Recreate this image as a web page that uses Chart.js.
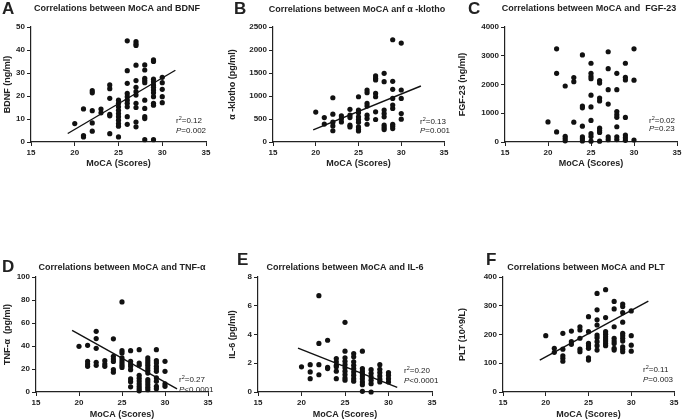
<!DOCTYPE html>
<html>
<head>
<meta charset="utf-8">
<script src="https://cdn.jsdelivr.net/npm/chart.js@4.4.1/dist/chart.umd.min.js"></script>
<style>
  html, body { margin: 0; padding: 0; background: #fff; }
  #wrap { position: relative; width: 685px; height: 420px; overflow: hidden; }
  #wrap canvas { position: absolute; }
</style>
</head>
<body>
<div id="wrap">
  <canvas id="cA" width="228" height="169" style="left:0px;top:0px"></canvas>
  <canvas id="cB" width="230" height="169" style="left:225px;top:0px"></canvas>
  <canvas id="cC" width="230" height="169" style="left:455px;top:0px"></canvas>
  <canvas id="cD" width="228" height="180" style="left:0px;top:240px"></canvas>
  <canvas id="cE" width="230" height="180" style="left:225px;top:240px"></canvas>
  <canvas id="cF" width="230" height="180" style="left:455px;top:240px"></canvas>
</div>
<script>
// MoCA scores, every point sits on one of these columns
const mocaScores = [20, 21, 22, 23, 24, 25, 26, 27, 28, 29, 30];
const xTicks = [15, 20, 25, 30, 35];

// values per MoCA column (same order as mocaScores)
const bdnf = [
  [8.0],
  [14.4, 2.8, 2.2],
  [22.3, 21.4, 13.6, 8.3, 4.7],
  [14.3, 12.7],
  [24.8, 23.2, 19, 12, 11.4, 3.6],
  [18.2, 16.8, 15.3, 13.8, 12.4, 11, 9.5, 8, 6.9, 2.2],
  [44, 31, 25.5, 21.1, 19.7, 18.2, 16.8, 15.3, 11, 7.7],
  [43.7, 42.7, 42, 33.4, 26.7, 23.8, 21.9, 20.4, 16.8, 15, 8.7, 6.6],
  [33.5, 31.3, 27.7, 26.7, 25.8, 18.2, 14.6, 11, 10.2, 1],
  [35.7, 35, 27.3, 26.2, 24.8, 23.8, 22.6, 21.4, 19.7, 16.8, 16, 1],
  [28.1, 25.8, 22.9, 19.7, 17.1]
];
const klotho = [
  [650],
  [532, 390],
  [962, 605, 430, 350, 245],
  [569, 510, 437],
  [710, 583, 532, 365, 328],
  [984, 693, 634, 547, 489, 430, 328, 270, 240],
  [1130, 1072, 838, 780, 583, 510, 386],
  [1436, 1385, 1349, 1057, 984, 656, 489],
  [1494, 1312, 693, 620, 547, 365, 313, 270],
  [2223, 1320, 1145, 948, 802, 729, 386, 343, 292],
  [2150, 1130, 948, 620, 496]
];
const fgf23 = [
  [700],
  [3240, 2390, 350],
  [1947, 200, 120, 40],
  [2240, 2100, 690],
  [3030, 1250, 1190, 550, 175, 110, 35],
  [2740, 2390, 2280, 2200, 1630, 1220, 750, 290, 190, 30],
  [2140, 2050, 1530, 1430, 480, 400, 330, 30],
  [3140, 2550, 1820, 1320, 175, 80],
  [2390, 1820, 1060, 950, 860, 530, 180, 85],
  [2740, 2250, 2160, 855, 240, 150, 60],
  [3240, 2150, 70]
];
const tnfa = [
  [39.7],
  [40.6, 26.7, 24.3, 22.3],
  [52.8, 46.5, 38, 25.8, 23.2],
  [27.2, 24.3, 22.3],
  [46.2, 31, 28.7, 26.6, 19.5, 17.2],
  [78.3, 35.9, 34, 29.6, 27.2, 25.2, 23.2, 21.4],
  [35.9, 26.7, 24.3, 22.3, 19.4, 11.4, 9, 4.5],
  [36.8, 25.2, 23.2, 14.5, 12, 9.5, 7, 4.8, 2.8, 1],
  [29.6, 27.2, 25.2, 23.2, 20.9, 18.6, 16.5, 10.7, 8.7, 6.4, 4.1, 2],
  [36.8, 27.2, 25.2, 22.3, 20.3, 18, 12.2, 9.3, 4.9, 2.9],
  [26.7, 18, 7, 4.9]
];
const il6 = [
  [1.75],
  [1.9, 1.4, 0.93],
  [6.7, 3.38, 1.9, 1.2],
  [3.6, 1.72, 1.63],
  [2.33, 2.1, 1.86, 1.75, 1.45, 0.93],
  [4.85, 2.84, 2.38, 2.14, 1.91, 1.68, 1.45, 1.21, 0.98, 0.82],
  [2.68, 2.45, 2.1, 1.86, 1.63, 1.4, 1.17, 0.93, 0.75],
  [2.84, 1.63, 1.45, 1.28, 1.12, 0.93, 0.7, 0.51, 0.05],
  [1.55, 1.3, 1.05, 0.82, 0.58, 0],
  [1.9, 1.58, 1.35, 1.12, 0.89, 0.7],
  [1.35, 1.17, 0.93, 0.7]
];
const plt = [
  [196],
  [152, 138],
  [204, 149, 126, 117, 107],
  [212, 175, 166],
  [227, 216, 187, 149, 140],
  [262, 210, 169, 161, 152, 119, 111],
  [343, 286, 251, 233, 198, 189, 175, 161, 146],
  [356, 259, 210, 201, 192, 184, 177, 169, 161],
  [315, 289, 227, 187, 177, 169, 152, 146],
  [306, 297, 276, 243, 204, 196, 187, 177, 157, 149, 140],
  [282, 196, 163, 142]
];

// regression line end points [MoCA, value]
const bdnfFit = [[19.2, 3.7], [31.5, 31.2]];
const klothoFit = [[19.7, 262], [32.3, 1217]];
const tnfaFit = [[19.2, 53.6], [31.4, 2.8]];
const il6Fit = [[19.6, 3.05], [31.0, 0.32]];
const pltFit = [[19.3, 111], [32.0, 316]];

const panels = [
  { id: 'cA', letter: 'A', title: 'Correlations between MoCA and BDNF', yTitle: 'BDNF (ng/ml)',
    values: bdnf, fit: bdnfFit, yMax: 50, yStep: 10, r2: '0.12', p: '=0.002',
    box: { padTop: 27, padRight: 22, yW: 31, xH: 27, letterX: 2, letterY: 9, titleX: 117, titleY: 9, statX: -30, statY1: -21, statY2: -11 } },
  { id: 'cB', letter: 'B', title: 'Correlations between MoCA anf \u03b1 -klotho', yTitle: '\u03b1 -klotho (pg/ml)',
    values: klotho, fit: klothoFit, yMax: 2500, yStep: 500, r2: '0.13', p: '=0.001',
    box: { padTop: 27, padRight: 11, yW: 48, xH: 27, letterX: 9, letterY: 9, titleX: 132, titleY: 10, statX: -24, statY1: -20, statY2: -11 } },
  { id: 'cC', letter: 'C', title: 'Correlations between MoCA and  FGF-23', yTitle: 'FGF-23 (ng/ml)',
    values: fgf23, fit: null, yMax: 4000, yStep: 1000, r2: '0.02', p: '=0.23',
    box: { padTop: 27, padRight: 8, yW: 50, xH: 27, letterX: 13, letterY: 9, titleX: 134, titleY: 9, statX: -28, statY1: -21, statY2: -13 } },
  { id: 'cD', letter: 'D', title: 'Correlations between MoCA and TNF-\u03b1', yTitle: 'TNF-\u03b1  (pg/ml)',
    values: tnfa, fit: tnfaFit, yMax: 100, yStep: 20, r2: '0.27', p: '<0.0001',
    box: { padTop: 37, padRight: 20, yW: 36, xH: 28, letterX: 2, letterY: 27, titleX: 122, titleY: 28, statX: -29, statY1: -12, statY2: -2 } },
  { id: 'cE', letter: 'E', title: 'Correlations between MoCA and IL-6', yTitle: 'IL-6 (pg/ml)',
    values: il6, fit: il6Fit, yMax: 8, yStep: 2, r2: '0.20', p: '<0.0001',
    box: { padTop: 37, padRight: 23, yW: 33, xH: 28, letterX: 12, letterY: 20, titleX: 120, titleY: 28, statX: -28, statY1: -21, statY2: -11 } },
  { id: 'cF', letter: 'F', title: 'Correlations between MoCA and PLT', yTitle: 'PLT (10^9/L)',
    values: plt, fit: pltFit, yMax: 400, yStep: 100, r2: '0.11', p: '=0.003',
    box: { padTop: 37, padRight: 11, yW: 48, xH: 28, letterX: 31, letterY: 20, titleX: 131, titleY: 28, statX: -31, statY1: -22, statY2: -12 } }
];

const FONT = "'Liberation Sans', Arial, Helvetica, sans-serif";
const INK = '#222';
Chart.defaults.font.family = FONT;

const panelText = {
  id: 'panelText',
  afterDraw(chart, args, opts) {
    const ctx = chart.ctx, b = opts.box, area = chart.chartArea;
    ctx.save();
    ctx.fillStyle = INK;
    ctx.textBaseline = 'middle';
    ctx.textAlign = 'left';
    ctx.font = 'bold 17px ' + FONT;
    ctx.fillText(opts.letter, b.letterX, b.letterY);
    ctx.textAlign = 'center';
    ctx.font = 'bold 9px ' + FONT;
    ctx.fillText(opts.title, b.titleX, b.titleY);

    // r² and P
    ctx.textAlign = 'left';
    let x = area.right + b.statX, y = area.bottom + b.statY1;
    ctx.font = '8px ' + FONT;
    ctx.fillText('r', x, y);
    x += ctx.measureText('r').width;
    ctx.font = '5.5px ' + FONT;
    ctx.fillText('2', x, y - 3);
    x += ctx.measureText('2').width;
    ctx.font = '8px ' + FONT;
    ctx.fillText('=' + opts.r2, x, y);
    x = area.right + b.statX; y = area.bottom + b.statY2;
    ctx.font = 'italic 8px ' + FONT;
    ctx.fillText('P', x, y);
    x += ctx.measureText('P').width;
    ctx.font = '8px ' + FONT;
    ctx.fillText(opts.p, x, y);
    ctx.restore();
  }
};

function toPoints(cols) {
  const pts = [];
  cols.forEach((vals, i) => vals.forEach(v => pts.push({ x: mocaScores[i], y: v })));
  return pts;
}

function makeChart(p) {
  const b = p.box;
  const datasets = [{
    data: toPoints(p.values),
    pointRadius: 2.6,
    pointBackgroundColor: '#111',
    pointBorderWidth: 0,
    clip: false,
    order: 2
  }];
  if (p.fit) {
    datasets.push({
      type: 'line',
      data: p.fit.map(([x, y]) => ({ x, y })),
      borderColor: '#111',
      borderWidth: 1.4,
      pointRadius: 0,
      fill: false,
      clip: false,
      order: 1
    });
  }
  const axisCommon = {
    type: 'linear',
    grid: { drawOnChartArea: false, drawTicks: true, tickLength: 4, color: INK, lineWidth: 1 },
    border: { color: INK, width: 1.2 },
    ticks: { font: { size: 8, weight: 'bold' }, color: INK, padding: 2, maxRotation: 0, callback: v => String(v) }
  };
  new Chart(document.getElementById(p.id), {
    type: 'scatter',
    data: { datasets },
    options: {
      responsive: false,
      animation: false,
      devicePixelRatio: 1,
      layout: { padding: { top: b.padTop, right: b.padRight, left: 0, bottom: 0 } },
      plugins: {
        legend: { display: false },
        tooltip: { enabled: false },
        panelText: { letter: p.letter, title: p.title, r2: p.r2, p: p.p, box: b }
      },
      scales: {
        x: Object.assign({}, axisCommon, {
          min: 15, max: 35,
          afterBuildTicks: s => { s.ticks = xTicks.map(v => ({ value: v })); },
          afterFit: s => { s.height = b.xH; },
          title: { display: true, text: 'MoCA (Scores)', color: INK, font: { size: 9, weight: 'bold' }, padding: { top: 0, bottom: 0 } }
        }),
        y: Object.assign({}, axisCommon, {
          min: 0, max: p.yMax,
          ticks: Object.assign({}, axisCommon.ticks, { stepSize: p.yStep }),
          afterFit: s => { s.width = b.yW; },
          title: { display: true, text: p.yTitle, color: INK, font: { size: 9, weight: 'bold' }, padding: { top: 2, bottom: 0 } }
        })
      }
    },
    plugins: [panelText]
  });
}

panels.forEach(makeChart);
</script>
</body>
</html>
